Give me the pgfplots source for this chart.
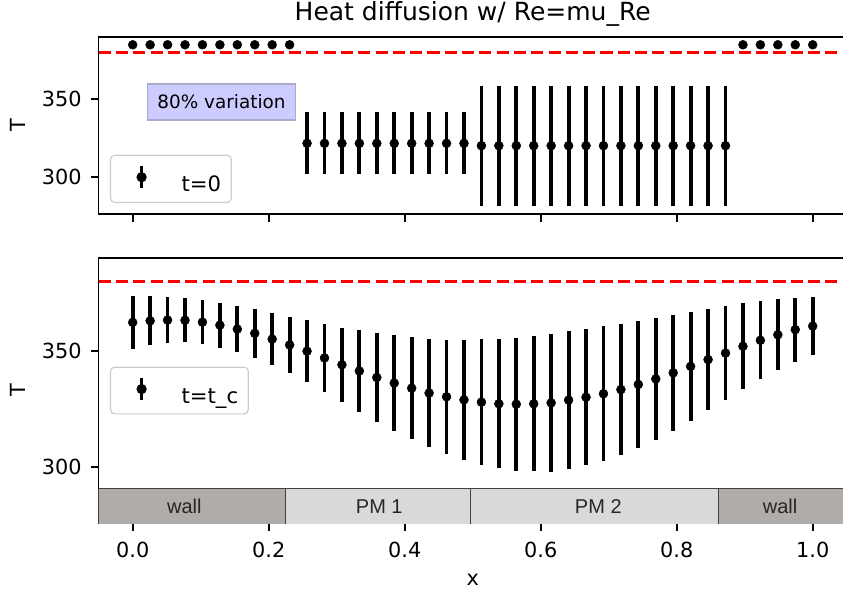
\documentclass[border=0pt]{standalone}
\usepackage{pgfplots}
\pgfplotsset{compat=1.18}
\usepackage{pgfplotstable}
\usepackage{fontspec}
\setmainfont{DejaVu Sans}
\newfontfamily\arialf{Liberation Sans}
\definecolor{wallc}{RGB}{176,172,170}
\definecolor{pmc}{RGB}{217,217,217}
\definecolor{edgec}{RGB}{64,64,64}
\definecolor{legedge}{RGB}{204,204,204}
\definecolor{varfill}{RGB}{204,204,255}
\definecolor{varedge}{RGB}{170,170,205}

\pgfplotstableread{
x y
0.00000 385
0.02564 385
0.05128 385
0.07692 385
0.10256 385
0.12821 385
0.15385 385
0.17949 385
0.20513 385
0.23077 385
0.89744 385
0.92308 385
0.94872 385
0.97436 385
1.00000 385
}\topdots

\pgfplotstableread{
x y e
0.25641 321.5 20.0
0.28205 321.5 20.0
0.30769 321.5 20.0
0.33333 321.5 20.0
0.35897 321.5 20.0
0.38462 321.5 20.0
0.41026 321.5 20.0
0.43590 321.5 20.0
0.46154 321.5 20.0
0.48718 321.5 20.0
0.51282 320.0 38.7
0.53846 320.0 38.7
0.56410 320.0 38.7
0.58974 320.0 38.7
0.61538 320.0 38.7
0.64103 320.0 38.7
0.66667 320.0 38.7
0.69231 320.0 38.7
0.71795 320.0 38.7
0.74359 320.0 38.7
0.76923 320.0 38.7
0.79487 320.0 38.7
0.82051 320.0 38.7
0.84615 320.0 38.7
0.87179 320.0 38.7
}\topbars

\pgfplotstableread{
x y e
0.00000 362.3 11.4
0.02564 363.0 10.6
0.05128 363.3 10.0
0.07692 363.2 9.5
0.10256 362.4 9.4
0.12821 361.1 9.6
0.15385 359.4 9.9
0.17949 357.6 10.5
0.20513 355.1 11.3
0.23077 352.6 12.2
0.25641 349.9 13.4
0.28205 347.0 14.7
0.30769 344.1 16.0
0.33333 341.4 17.5
0.35897 338.6 19.0
0.38462 336.2 20.5
0.41026 334.0 22.0
0.43590 331.9 23.3
0.46154 330.3 24.6
0.48718 329.0 25.9
0.51282 328.0 27.0
0.53846 327.3 27.8
0.56410 327.1 28.6
0.58974 327.3 29.0
0.61538 327.7 29.6
0.64103 328.9 29.5
0.66667 330.1 29.3
0.69231 331.6 29.0
0.71795 333.4 28.2
0.74359 335.6 27.3
0.76923 338.0 26.2
0.79487 340.6 24.9
0.82051 343.4 23.4
0.84615 346.3 21.8
0.87179 349.1 20.1
0.89744 352.0 18.5
0.92308 354.6 16.8
0.94872 357.0 15.3
0.97436 359.2 13.8
1.00000 360.7 12.5
}\botbars

\pgfplotsset{
  myax/.style={
    scale only axis, width=748pt,
    xmin=-0.05, xmax=1.05, ymin=276, ymax=390,
    axis line style={line width=1.6pt},
    every tick/.style={line width=1.6pt, black},
    major tick length=7.5pt, tick align=outside, tick pos=left,
    xtick={0,0.2,0.4,0.6,0.8,1.0}, ytick={300,350},
    /pgf/number format/assume math mode=true,
    tick label style={font=\fontsize{20.8}{20.8}\selectfont, inner sep=0pt},
    xticklabel style={/pgf/number format/fixed, /pgf/number format/fixed zerofill, /pgf/number format/precision=1},
    yticklabel style={anchor=east, xshift=-9.5pt},
    ylabel={T},
    ylabel style={at={(axis description cs:-0.1079,0.5)}, anchor=center, inner sep=0pt, font=\fontsize{20.8}{20.8}\selectfont},
    legend style={draw=legedge, line width=1.2pt, rounded corners=4pt, fill=white, fill opacity=0.8, text opacity=1,
      inner xsep=10pt, inner ysep=9pt, column sep=0pt,
      nodes={inner sep=0pt, font=\fontsize{21.2}{21.2}\selectfont},
      font=\fontsize{21.2}{21.2}\selectfont},
    legend cell align=left,
  },
  ebarleg/.style={legend image code/.code={
      \path[draw=none, fill=none] (0pt,-3.4pt) rectangle (61pt,18.6pt);
      \draw[line width=3.8pt, black, sharp corners] (21pt,-3.4pt) -- (21pt,18.6pt);
      \fill[black, fill opacity=1] (21pt,7.6pt) circle (4.5pt);}},
  ebar/.style={black, only marks, mark=*, mark size=4.5pt,
    error bars/.cd, y dir=both, y explicit, error bar style={line width=3.8pt, black}, error mark=none, /pgfplots/.cd},
}

\begin{document}
\begin{tikzpicture}
\useasboundingbox (0pt,0pt) rectangle (843pt,-597pt);

\begin{axis}[myax, at={(98.7pt,-37pt)}, anchor=north west, height=177pt,
  xticklabels={},
  title={Heat diffusion w/ Re=mu\_Re},
  title style={at={(axis description cs:0.5,1)}, anchor=base, yshift=11pt, inner sep=0pt, font=\fontsize{25}{25}\selectfont},
  legend style={at={(axis description cs:0,0)}, anchor=south west, xshift=11.3pt, yshift=11pt},
]
\addplot[red, line width=3.3pt, dash pattern=on 12.1pt off 5.2pt, forget plot] coordinates {(-0.05,380) (1.05,380)};
\addplot[black, only marks, mark=*, mark size=4.5pt, forget plot] table[x=x, y=y] {\topdots};
\addplot[ebarleg, ebar] table[x=x, y=y, y error=e] {\topbars};
\addlegendentry{t=0}
\node[fill=varfill, draw=varedge, line width=1.2pt, inner sep=0pt, minimum width=148.4pt, minimum height=36pt,
  font=\fontsize{18.4}{18.4}\selectfont] at (axis cs:0.1306,348.1) {80\% variation};
\end{axis}

\begin{axis}[myax, at={(98.7pt,-258pt)}, anchor=north west, height=265pt,
  xlabel={x},
  xlabel style={at={(axis description cs:0.5,0)}, anchor=center, yshift=-57pt, inner sep=0pt, font=\fontsize{20.8}{20.8}\selectfont},
  xticklabel style={anchor=north, yshift=-11.2pt},
  legend style={at={(axis description cs:0,0.5)}, anchor=west, xshift=11.3pt},
]
\draw[fill=wallc, draw=edgec, line width=1.2pt] (axis cs:-0.1,270) rectangle (axis cs:0.225,290.7);
\draw[fill=pmc, draw=edgec, line width=1.2pt] (axis cs:0.225,270) rectangle (axis cs:0.497,290.7);
\draw[fill=pmc, draw=edgec, line width=1.2pt] (axis cs:0.497,270) rectangle (axis cs:0.861,290.7);
\draw[fill=wallc, draw=edgec, line width=1.2pt] (axis cs:0.861,270) rectangle (axis cs:1.2,290.7);
\node[font=\arialf\fontsize{20}{20}\selectfont, text=black!85] at (axis cs:0.0759,283.1) {wall};
\node[font=\arialf\fontsize{20}{20}\selectfont, text=black!85] at (axis cs:0.3626,283.1) {PM 1};
\node[font=\arialf\fontsize{20}{20}\selectfont, text=black!85] at (axis cs:0.6847,283.1) {PM 2};
\node[font=\arialf\fontsize{20}{20}\selectfont, text=black!85] at (axis cs:0.952,283.1) {wall};
\addplot[red, line width=3.3pt, dash pattern=on 12.1pt off 5.2pt, forget plot] coordinates {(-0.05,380) (1.05,380)};
\addplot[ebarleg, ebar] table[x=x, y=y, y error=e] {\botbars};
\addlegendentry{t=t\_c}
\end{axis}
\end{tikzpicture}
\end{document}
